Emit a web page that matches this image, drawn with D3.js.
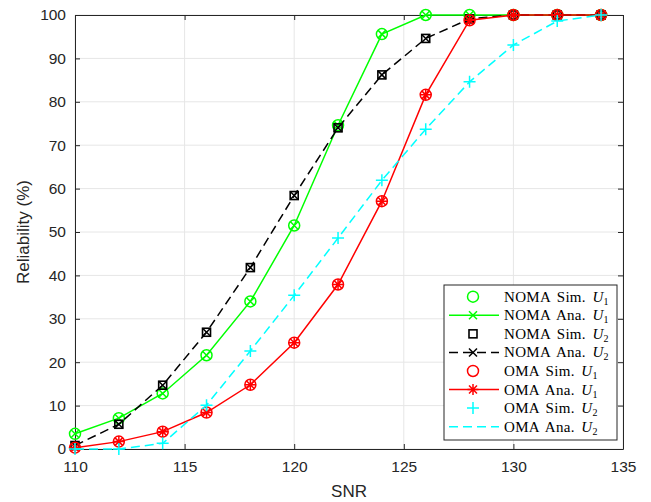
<!DOCTYPE html>
<html>
<head>
<meta charset="utf-8">
<script src="https://cdn.jsdelivr.net/npm/d3@7"></script>
<style>
  body { margin: 0; background: #fff; }
  svg { display: block; }
</style>
</head>
<body>
<div id="chart"></div>
<script>
const snr = [110, 112, 114, 116, 118, 120, 122, 124, 126, 128, 130, 132, 134]

const nomaSimU1 = [3.5, 7.1, 12.8, 21.6, 34, 51.5, 74.6, 95.6, 100, 100, 100, 100, 100]
const nomaAnaU1 = [3.5, 7.1, 12.8, 21.6, 34, 51.5, 74.6, 95.6, 100, 100, 100, 100, 100]
const nomaSimU2 = [0.8, 5.7, 14.7, 26.9, 41.8, 58.4, 74, 86.2, 94.6, 99.1, 100, 100, 100]
const nomaAnaU2 = [0.8, 5.7, 14.7, 26.9, 41.8, 58.4, 74, 86.2, 94.6, 99.1, 100, 100, 100]
const omaSimU1 = [0.3, 1.7, 4, 8.4, 14.8, 24.5, 37.9, 57.1, 81.6, 98.8, 100, 100, 100]
const omaAnaU1 = [0.3, 1.7, 4, 8.4, 14.8, 24.5, 37.9, 57.1, 81.6, 98.8, 100, 100, 100]
const omaSimU2 = [0, 0, 1.3, 10.1, 22.6, 35.4, 48.6, 61.9, 73.7, 84.6, 93.1, 98.6, 100]
const omaAnaU2 = [0, 0, 1.3, 10.1, 22.6, 35.4, 48.6, 61.9, 73.7, 84.6, 93.1, 98.6, 100]

const xTicks = [110, 115, 120, 125, 130, 135]
const yTicks = [0, 10, 20, 30, 40, 50, 60, 70, 80, 90, 100]

const width = 651
const height = 502
const margin = { top: 15, right: 28, bottom: 53, left: 75 }

const svg = d3
	.select('#chart')
	.append('svg')
	.attr('width', width)
	.attr('height', height)

const x = d3.scaleLinear().domain([110, 135]).range([margin.left, width - margin.right])
const y = d3.scaleLinear().domain([0, 100]).range([height - margin.bottom, margin.top])

const axisColor = '#262626'
const sans = 'Liberation Sans, Arial, sans-serif'

// grid
svg
	.append('g')
	.selectAll('line')
	.data(xTicks)
	.enter()
	.append('line')
	.attr('x1', (d) => x(d))
	.attr('x2', (d) => x(d))
	.attr('y1', y(0))
	.attr('y2', y(100))
	.attr('stroke', '#e6e6e6')
svg
	.append('g')
	.selectAll('line')
	.data(yTicks)
	.enter()
	.append('line')
	.attr('x1', x(110))
	.attr('x2', x(135))
	.attr('y1', (d) => y(d))
	.attr('y2', (d) => y(d))
	.attr('stroke', '#e6e6e6')

// axes
const styleAxis = (g) => {
	g.select('.domain').attr('stroke', axisColor)
	g.selectAll('.tick line').attr('stroke', axisColor)
	g.selectAll('.tick text')
		.attr('fill', axisColor)
		.attr('font-family', sans)
		.attr('font-size', 15.5)
}

svg
	.append('g')
	.attr('transform', 'translate(0,' + y(0) + ')')
	.call(d3.axisBottom(x).tickValues(xTicks).tickSizeInner(-5).tickSizeOuter(0).tickPadding(12))
	.call(styleAxis)
svg
	.append('g')
	.attr('transform', 'translate(0,' + y(100) + ')')
	.call(d3.axisTop(x).tickValues(xTicks).tickSizeInner(-5).tickSizeOuter(0).tickFormat(''))
	.call(styleAxis)
svg
	.append('g')
	.attr('transform', 'translate(' + x(110) + ',0)')
	.call(d3.axisLeft(y).tickValues(yTicks).tickSizeInner(-5).tickSizeOuter(0).tickPadding(9))
	.call(styleAxis)
svg
	.append('g')
	.attr('transform', 'translate(' + x(135) + ',0)')
	.call(d3.axisRight(y).tickValues(yTicks).tickSizeInner(-5).tickSizeOuter(0).tickFormat(''))
	.call(styleAxis)

svg
	.append('text')
	.attr('x', (x(110) + x(135)) / 2)
	.attr('y', 497)
	.attr('text-anchor', 'middle')
	.attr('fill', axisColor)
	.attr('font-family', sans)
	.attr('font-size', 17)
	.text('SNR')
svg
	.append('text')
	.attr('transform', 'translate(29,' + (y(0) + y(100)) / 2 + ') rotate(-90)')
	.attr('text-anchor', 'middle')
	.attr('fill', axisColor)
	.attr('font-family', sans)
	.attr('font-size', 17)
	.text('Reliability (%)')

// markers
function drawMarker(g, type, color, cx, cy) {
	if (type === 'circle') {
		g.append('circle').attr('cx', cx).attr('cy', cy).attr('r', 5.5)
			.attr('fill', 'none').attr('stroke', color).attr('stroke-width', 1.5)
	} else if (type === 'square') {
		g.append('rect').attr('x', cx - 4).attr('y', cy - 4).attr('width', 8).attr('height', 8)
			.attr('fill', 'none').attr('stroke', color).attr('stroke-width', 1.6)
	} else if (type === 'x') {
		g.append('path').attr('d', `M${cx - 4},${cy - 4}L${cx + 4},${cy + 4}M${cx - 4},${cy + 4}L${cx + 4},${cy - 4}`)
			.attr('stroke', color).attr('stroke-width', 1.5)
	} else if (type === 'plus') {
		g.append('path').attr('d', `M${cx - 6},${cy}L${cx + 6},${cy}M${cx},${cy - 6}L${cx},${cy + 6}`)
			.attr('stroke', color).attr('stroke-width', 1.5)
	} else if (type === 'star') {
		g.append('path').attr('d', `M${cx - 5.5},${cy}L${cx + 5.5},${cy}M${cx},${cy - 5.5}L${cx},${cy + 5.5}` +
			`M${cx - 4},${cy - 4}L${cx + 4},${cy + 4}M${cx - 4},${cy + 4}L${cx + 4},${cy - 4}`)
			.attr('stroke', color).attr('stroke-width', 1.5)
	}
}

const series = [
	{ name: 'NOMA Sim.', user: '1', values: nomaSimU1, color: '#00ff00', line: false, marker: 'circle' },
	{ name: 'NOMA Ana.', user: '1', values: nomaAnaU1, color: '#00ff00', line: 'solid', marker: 'x' },
	{ name: 'NOMA Sim.', user: '2', values: nomaSimU2, color: '#000000', line: false, marker: 'square' },
	{ name: 'NOMA Ana.', user: '2', values: nomaAnaU2, color: '#000000', line: 'dash', marker: 'x' },
	{ name: 'OMA Sim.', user: '1', values: omaSimU1, color: '#ff0000', line: false, marker: 'circle' },
	{ name: 'OMA Ana.', user: '1', values: omaAnaU1, color: '#ff0000', line: 'solid', marker: 'star' },
	{ name: 'OMA Sim.', user: '2', values: omaSimU2, color: '#00ffff', line: false, marker: 'plus' },
	{ name: 'OMA Ana.', user: '2', values: omaAnaU2, color: '#00ffff', line: 'dash', marker: null },
]

const line = d3
	.line()
	.x((d) => x(d[0]))
	.y((d) => y(d[1]))

const plot = svg.append('g')
series.forEach((s) => {
	const pts = snr.map((v, i) => [v, s.values[i]])
	const g = plot.append('g')
	if (s.line) {
		g.append('path')
			.datum(pts)
			.attr('d', line)
			.attr('fill', 'none')
			.attr('stroke', s.color)
			.attr('stroke-width', 1.5)
			.attr('stroke-dasharray', s.line === 'dash' ? '9,5' : null)
	}
	if (s.marker) pts.forEach((p) => drawMarker(g, s.marker, s.color, x(p[0]), y(p[1])))
})

// legend
const lg = svg.append('g')
const lx = 444
const ly = 285
lg.append('rect')
	.attr('x', lx)
	.attr('y', ly)
	.attr('width', 173)
	.attr('height', 155)
	.attr('fill', '#fff')
	.attr('stroke', axisColor)
	.attr('stroke-width', 1)

series.forEach((s, i) => {
	const cy = ly + 11.7 + i * 18.57
	const g = lg.append('g')
	if (s.line) {
		g.append('line')
			.attr('x1', lx + 5)
			.attr('x2', lx + 55)
			.attr('y1', cy)
			.attr('y2', cy)
			.attr('stroke', s.color)
			.attr('stroke-width', 1.5)
			.attr('stroke-dasharray', s.line === 'dash' ? '9,5' : null)
	}
	if (s.marker) drawMarker(g, s.marker, s.color, lx + 29, cy)
	const t = g
		.append('text')
		.attr('x', lx + 60)
		.attr('y', cy + 5)
		.attr('font-family', 'Liberation Serif, Times New Roman, serif')
		.attr('font-size', 15)
		.attr('word-spacing', 2.5)
		.attr('letter-spacing', 0.3)
		.attr('fill', '#000')
	t.append('tspan').text(s.name + ' ')
	t.append('tspan').attr('font-style', 'italic').text('U')
	t.append('tspan').attr('font-size', 10).attr('dy', 3).text(s.user)
})
</script>
</body>
</html>
